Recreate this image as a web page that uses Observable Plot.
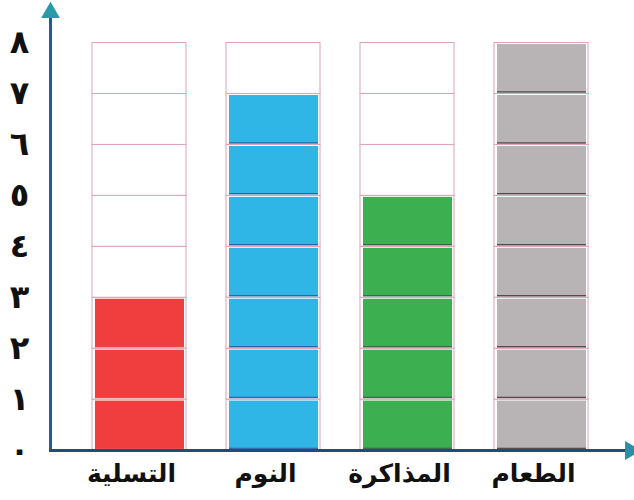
<!DOCTYPE html>
<html>
<head>
<meta charset="utf-8">
<script src="https://cdn.jsdelivr.net/npm/d3@7"></script>
<script src="https://cdn.jsdelivr.net/npm/@observablehq/plot@0.6"></script>
<style>
  html, body { margin: 0; padding: 0; background: #fff; }
  svg { display: block; }
</style>
</head>
<body>
<div id="chart"></div>
<script>
const categories = ["التسلية", "النوم", "المذاكرة", "الطعام"];
const values = [3, 7, 5, 8];
const colors = ["#f03e3e", "#2fb6e6", "#3caf50", "#b8b3b4"];
const edgeColors = ["#e83838", "#1d4f9a", "#24553a", "#3a2a30"];
const maxCells = 8;
const tickLabels = ["٠", "١", "٢", "٣", "٤", "٥", "٦", "٧", "٨"];

const cells = [];
categories.forEach((c, i) => {
  for (let k = 0; k < maxCells; k++) {
    cells.push({cat: c, y1: k, y2: k + 1, filled: k < values[i], color: colors[i], edge: edgeColors[i]});
  }
});
const filled = cells.filter(d => d.filled);

const chart = Plot.plot({
  width: 634,
  height: 500,
  marginLeft: 50,
  marginRight: 4,
  marginTop: 12,
  marginBottom: 50,
  style: {fontFamily: "DejaVu Sans", background: "#fff", color: "#111"},
  x: {domain: categories, padding: 0.3, label: null},
  y: {domain: [0, 8.6], ticks: d3.range(0, 9), label: null},
  color: {type: "identity"},
  marks: [
    Plot.barY(cells, {x: "cat", y1: "y1", y2: "y2", fill: "white", stroke: "#dca2b5", strokeWidth: 1}),
    Plot.barY(filled, {x: "cat", y1: "y1", y2: "y2", fill: "color", insetTop: 1.5, insetBottom: 1.5, insetLeft: 3, insetRight: 2}),
    Plot.tickY(filled, {x: "cat", y: "y1", stroke: "edge", strokeWidth: 1.5, dy: -2, insetLeft: 3, insetRight: 2, strokeOpacity: 0.8}),
    Plot.axisY({tickSize: 0, tickPadding: 22, fontSize: 32, fontWeight: "bold", tickFormat: d => tickLabels[d], textAnchor: "middle", dx: -9}),
    Plot.axisX({tickSize: 0, tickPadding: 14, fontSize: 25, fontWeight: "bold", label: null, dx: -8}),
    Plot.frame({anchor: "left", stroke: "#1b5f93", strokeWidth: 3}),
    Plot.frame({anchor: "bottom", stroke: "#1b4f7a", strokeWidth: 3}),
    Plot.dot([0], {frameAnchor: "top-left", symbol: "triangle", r: 6, fill: "#2a9aa8", stroke: "#2a9aa8"}),
    Plot.dot([0], {frameAnchor: "bottom-right", symbol: "triangle", r: 6, fill: "#2a8fa8", stroke: "#2a8fa8", rotate: 90})
  ]
});
document.getElementById("chart").append(chart);
</script>
</body>
</html>
